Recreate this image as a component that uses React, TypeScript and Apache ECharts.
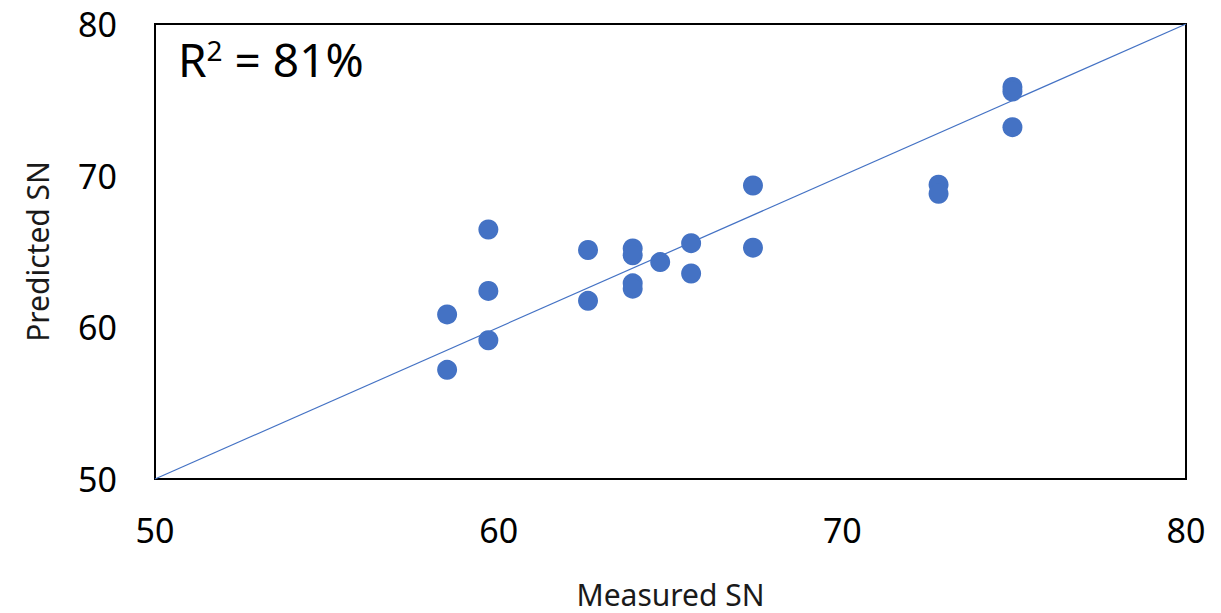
import React, { useEffect, useRef } from "react";
import * as echarts from "echarts";

const measured = [58.5, 58.5, 59.7, 59.7, 59.7, 62.6, 62.6, 63.9, 63.9, 63.9, 63.9, 64.7, 65.6, 65.6, 67.4, 67.4, 72.8, 72.8, 74.95, 74.95, 74.95];
const predicted = [60.85, 57.2, 66.45, 62.4, 59.15, 65.1, 61.75, 65.2, 64.75, 62.9, 62.55, 64.3, 65.55, 63.55, 69.35, 65.25, 69.4, 68.8, 75.85, 75.55, 73.2];
const refLineX = [50, 80];
const refLineY = [50, 80];
const axisMin = 50;
const axisMax = 80;
const axisStep = 10;
const rSquaredLabel = "81%";

export default function App() {
  const ref = useRef<HTMLDivElement>(null);
  useEffect(() => {
    if (!ref.current) return;
    const chart = echarts.init(ref.current, undefined, { renderer: "svg" });
    const font = "'Noto Sans', sans-serif";
    chart.setOption({
      animation: false,
      backgroundColor: "#ffffff",
      grid: {
        left: 155,
        top: 24,
        right: 35,
        bottom: 134,
        outerBoundsMode: "none",
        containLabel: false,
        show: true,
        borderColor: "#000000",
        borderWidth: 2,
        backgroundColor: "transparent",
      },
      xAxis: {
        type: "value",
        min: axisMin,
        max: axisMax,
        interval: axisStep,
        name: "Measured SN",
        nameLocation: "middle",
        nameGap: 100,
        nameTextStyle: { fontFamily: font, fontSize: 30, color: "#1a1a1a" },
        axisLine: { show: false },
        axisTick: { show: false },
        splitLine: { show: false },
        axisLabel: { fontFamily: font, fontSize: 34, color: "#000000", margin: 34 },
      },
      yAxis: {
        type: "value",
        min: axisMin,
        max: axisMax,
        interval: axisStep,
        name: "Predicted SN",
        nameLocation: "middle",
        nameGap: 103,
        nameTextStyle: { fontFamily: font, fontSize: 30, color: "#1a1a1a" },
        axisLine: { show: false },
        axisTick: { show: false },
        splitLine: { show: false },
        axisLabel: { fontFamily: font, fontSize: 34, color: "#000000", margin: 38 },
      },
      graphic: [
        {
          type: "text",
          left: 178,
          top: 36,
          style: {
            text: "{r|R}{sup|2}{r| = " + rSquaredLabel + "}",
            rich: {
              r: { fontFamily: font, fontSize: 46, fill: "#000000", verticalAlign: "bottom" },
              sup: { fontFamily: font, fontSize: 28, fill: "#000000", verticalAlign: "top", padding: [0, 0, 18, 0] },
            },
          },
        },
      ],
      series: [
        {
          type: "line",
          data: refLineX.map((x, i) => [x, refLineY[i]]),
          showSymbol: false,
          symbol: "none",
          lineStyle: { color: "#4472C4", width: 1.2 },
          z: 1,
        },
        {
          type: "scatter",
          data: measured.map((x, i) => [x, predicted[i]]),
          symbolSize: 20,
          itemStyle: { color: "#4472C4", opacity: 1 },
          z: 2,
        },
      ],
    });
    return () => chart.dispose();
  }, []);
  return <div ref={ref} style={{ position: "fixed", left: 0, top: 0, width: 1221, height: 613 }} />;
}
